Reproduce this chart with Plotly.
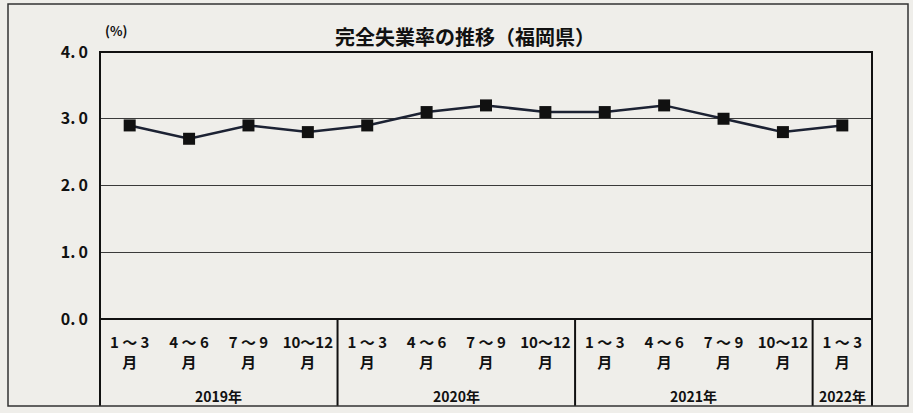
import plotly.graph_objects as go

quarters = ["1 ～ 3<br>月", "4 ～ 6<br>月", "7 ～ 9<br>月", "10～12<br>月"] * 3 + ["1 ～ 3<br>月"]
years = ["2019年", "2020年", "2021年", "2022年"]
year_centers = [1.5, 5.5, 9.5, 12]
year_bounds = [3.5, 7.5, 11.5]
rates = [2.9, 2.7, 2.9, 2.8, 2.9, 3.1, 3.2, 3.1, 3.1, 3.2, 3.0, 2.8, 2.9]
y_ticks = [0, 1, 2, 3, 4]
y_text = ["0.\u20090", "1.\u20090", "2.\u20090", "3.\u20090", "4.\u20090"]

W, H = 913, 413
L, R, T, B = 100, 872, 52, 319  # plot area in px
TABLE_BOTTOM = 406

def py(p):  # pixel y -> paper y
    return (B - p) / (B - T)

def px(p):  # pixel x -> paper x
    return (p - L) / (R - L)

BG = "#efeeea"
INK = "#111111"
FONT = "Noto Sans CJK JP"

x = list(range(len(rates)))
fig = go.Figure()
fig.add_trace(go.Scatter(
    x=x, y=rates, mode="lines+markers",
    line=dict(color="#1c2233", width=2.5),
    marker=dict(symbol="square", size=12, color="#111111"),
    hoverinfo="skip", showlegend=False,
))

shapes = []
shapes.append(dict(type="rect", xref="paper", yref="paper", x0=0, x1=1, y0=0, y1=1,
                   line=dict(color=INK, width=2)))
for xv in (0, 1):
    shapes.append(dict(type="line", xref="paper", yref="paper", x0=xv, x1=xv,
                       y0=0, y1=py(TABLE_BOTTOM), line=dict(color=INK, width=2)))
for xb in year_bounds:
    shapes.append(dict(type="line", xref="x", yref="paper", x0=xb, x1=xb,
                       y0=0, y1=py(TABLE_BOTTOM), line=dict(color=INK, width=2)))
shapes.append(dict(type="rect", xref="paper", yref="paper",
                   x0=px(8), x1=px(908), y0=py(TABLE_BOTTOM), y1=py(4),
                   line=dict(color="#333333", width=1.5)))

annotations = [
    dict(text="<b>完全失業率の推移（福岡県）</b>", xref="paper", yref="paper",
         x=px(465), y=py(36), yanchor="middle", xanchor="center", showarrow=False,
         font=dict(size=20, color=INK, family=FONT)),
    dict(text="<b>(%)</b>", xref="paper", yref="paper", x=px(116), y=py(30),
         yanchor="middle", xanchor="center", showarrow=False,
         font=dict(size=13, color=INK, family=FONT)),
]
for yr, xc in zip(years, year_centers):
    annotations.append(dict(text="<b>" + yr + "</b>", xref="x", yref="paper", x=xc, y=py(396),
                            yanchor="middle", xanchor="center", showarrow=False,
                            font=dict(size=14, color=INK, family=FONT)))

fig.update_layout(
    width=W, height=H,
    margin=dict(l=L, r=W - R, t=T, b=H - B),
    paper_bgcolor=BG, plot_bgcolor=BG,
    font=dict(family=FONT, color=INK),
    shapes=shapes, annotations=annotations,
    xaxis=dict(range=[-0.5, 12.5], tickvals=x, ticktext=["<b>" + q.replace("<br>", "</b><br><b>") + "</b>" for q in quarters],
               showgrid=False, zeroline=False, showline=False, ticks="", ticklabelstandoff=13,
               tickfont=dict(size=15, color=INK, family=FONT), fixedrange=True),
    yaxis=dict(range=[0, 4], tickvals=y_ticks, ticktext=["<b>" + t + "</b>" for t in y_text],
               showgrid=True, gridcolor="#3a3a3a", gridwidth=1, zeroline=False, showline=False,
               ticks="", ticklabelstandoff=11,
               tickfont=dict(size=16, color=INK, family=FONT), fixedrange=True),
)

fig.write_html("out.html", config={"displayModeBar": False, "staticPlot": True},
               post_script="document.body.style.margin='0';document.body.style.background='" + BG + "';")
